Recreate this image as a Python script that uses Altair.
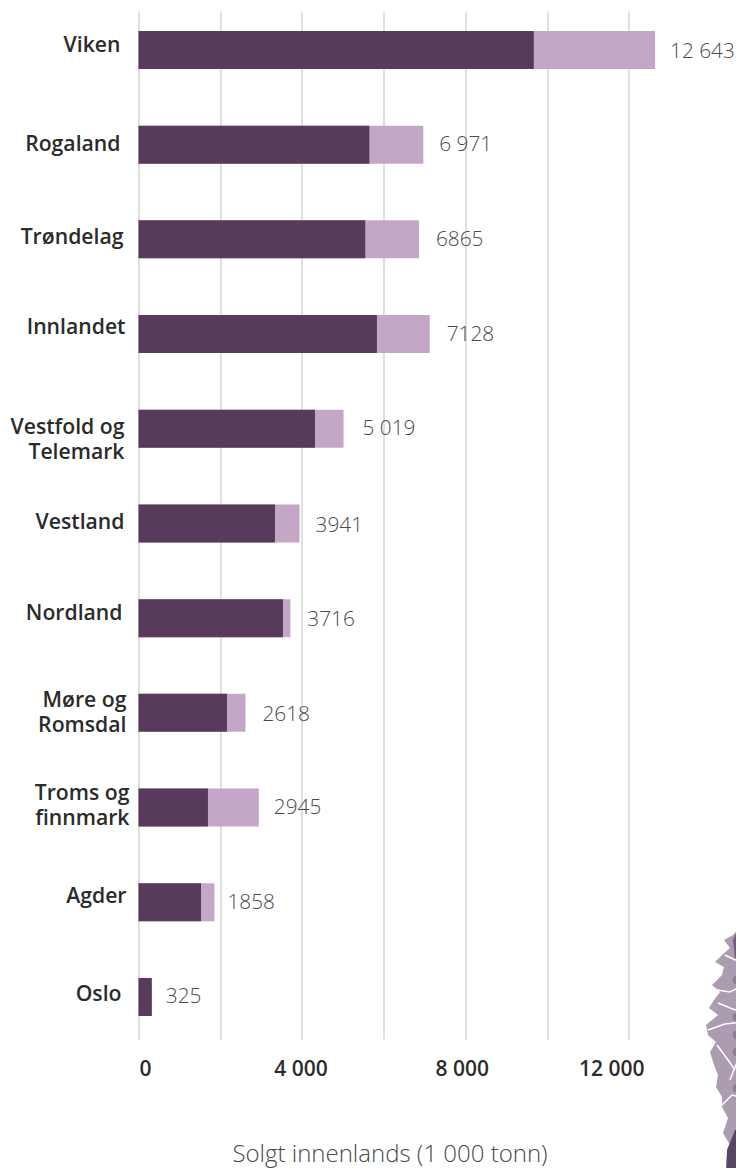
import altair as alt
import pandas as pd

regions = ["Viken", "Rogaland", "Trøndelag", "Innlandet", "Vestfold og\nTelemark", "Vestland",
           "Nordland", "Møre og\nRomsdal", "Troms og\nfinnmark", "Agder", "Oslo"]
totals = [12643, 6971, 6865, 7128, 5019, 3941, 3716, 2618, 2945, 1858, 325]
dark = [9675, 5650, 5550, 5835, 4320, 3340, 3535, 2165, 1700, 1530, 325]
value_labels = ["12 643", "6 971", "6865", "7128", "5 019", "3941", "3716", "2618", "2945", "1858", "325"]
name_nudge = [(-18, -4), (-18, 0), (-15, -1), (-13, -6), (-14, -1), (-14, 0), (-16, -4), (-12, -12), (-9, -14), (-12, -5), (-17, -2)]
value_nudge = [15, 16, 17, 17, 19, 16, 17, 17, 15, 13, 14]
value_dy = [2, 0, 1, 1, 0, 3, 2, 2, 0, 1, 0]
x_ticks = [0, 4000, 8000, 12000]
x_tick_labels = ["0", "4 000", "8 000", "12 000"]
x_tick_nudge = [7, -1, -3, -17]

map_y = [927, 935, 940, 948, 955, 962, 967, 975, 985, 992, 1000, 1008, 1015, 1025, 1035, 1042, 1052, 1065, 1075, 1087,
         1097, 1107, 1118, 1133, 1145, 1153, 1176]
map_left = [740, 733, 724, 730, 722, 715, 724, 722, 712, 720, 714, 709, 718, 706, 708, 716, 710, 714, 718, 716,
            722, 722, 728, 723, 730, 727, 726]
map_right = [744] * 27
map_dark_y = [1130, 1150, 1176]
map_dark_left = [735, 727, 726]
map_top_y = [929, 940, 958]
map_top_left = [738, 733, 735]
fjord_id = [1]*3 + [2]*3 + [3]*3 + [4]*3 + [5]*3 + [6]*3 + [7]*3
fjord_x = [711, 730, 744, 718, 735, 744, 708, 725, 744, 717, 728, 735, 730, 737, 744, 722, 732, 744, 725, 735, 744]
fjord_y = [989, 992, 985, 1003, 1010, 1005, 1030, 1024, 1022, 1045, 1060, 1070, 1080, 1062, 1050, 1105, 1095, 1098, 955, 960, 958]
dot_x = [737, 737, 737, 737, 737]
dot_y = [980, 1017, 1035, 1052, 1088]

df = pd.DataFrame({"region": regions, "total": totals, "dark": dark, "label": value_labels})

FONT = "Open Sans"
W, H = 572, 1028
x_scale = alt.Scale(domain=[0, 14000], range=[0, W], nice=False)
y_scale = alt.Scale(type="band", domain=regions, paddingInner=0.6, paddingOuter=0.2277, align=0.4644)
y_enc = alt.Y("region:N", scale=y_scale, axis=None, sort=regions)
x_plain = lambda f: alt.X(f, scale=x_scale, axis=None)

grid = alt.Chart(pd.DataFrame({"v": [0]})).mark_point(opacity=0).encode(
    x=alt.X("v:Q", scale=x_scale, axis=alt.Axis(values=list(range(0, 14000, 2000)), grid=True, gridColor="#e0e0e0",
                                                gridWidth=2, labels=False, ticks=False, domain=False, title=None)),
)
light = alt.Chart(df).mark_bar(color="#c4a6c6", size=38).encode(x=x_plain("total:Q"), y=y_enc)
darkb = alt.Chart(df).mark_bar(color="#583b5a", size=38).encode(x=x_plain("dark:Q"), y=y_enc)

layers = [grid, light, darkb]
for i, r in enumerate(regions):
    d = df.iloc[[i]]
    ndx, ndy = name_nudge[i]
    layers.append(alt.Chart(d).mark_text(font=FONT, fontSize=21.2, fontWeight=600, color="#2b2b2b", align="right",
                                         baseline="middle", lineBreak="\n", lineHeight=25, dx=ndx, dy=ndy).encode(
        x=alt.value(0), y=y_enc, text="region:N"))
    layers.append(alt.Chart(d).mark_text(font=FONT, fontSize=20.8, fontWeight=300, color="#4a4a4a", align="left",
                                         baseline="middle", dx=value_nudge[i], dy=value_dy[i]).encode(
        x=x_plain("total:Q"), y=y_enc, text="label:N"))

for t, lab, nudge in zip(x_ticks, x_tick_labels, x_tick_nudge):
    layers.append(alt.Chart(pd.DataFrame({"t": [t], "l": [lab]})).mark_text(
        font=FONT, fontSize=21, fontWeight=600, color="#2b2b2b", align="center", baseline="middle", dx=nudge).encode(
        x=x_plain("t:Q"), y=alt.value(H + 31), text="l:N"))

layers.append(alt.Chart(pd.DataFrame({"l": ["Solgt innenlands (1 000 tonn)"]})).mark_text(
    font=FONT, fontSize=24, fontWeight=300, color="#4a4a4a", align="center", baseline="middle").encode(
    x=alt.value(251.5), y=alt.value(H + 116), text="l:N"))

mx = alt.Scale(domain=[138.5, 710.5], range=[0, W])
my = alt.Scale(domain=[11, 1039], range=[0, H])
mpx = lambda f: alt.X(f, scale=mx, axis=None)
mpy = alt.Y("y:Q", scale=my, axis=None)
layers.append(alt.Chart(pd.DataFrame({"y": map_y, "l": map_left, "r": map_right})).mark_area(
    color="#ab9cb1", orient="horizontal").encode(y=mpy, x=mpx("l:Q"), x2="r:Q"))
layers.append(alt.Chart(pd.DataFrame({"y": map_dark_y, "l": map_dark_left, "r": [744] * 3})).mark_area(
    color="#5b4566", orient="horizontal").encode(y=mpy, x=mpx("l:Q"), x2="r:Q"))
layers.append(alt.Chart(pd.DataFrame({"y": map_top_y, "l": map_top_left, "r": [744] * 3})).mark_area(
    color="#705d78", orient="horizontal").encode(y=mpy, x=mpx("l:Q"), x2="r:Q"))
layers.append(alt.Chart(pd.DataFrame({"x": dot_x, "y": dot_y})).mark_circle(color="#8f7c98", size=80, opacity=1).encode(
    x=mpx("x:Q"), y=mpy))
layers.append(alt.Chart(pd.DataFrame({"f": fjord_id, "x": fjord_x, "y": fjord_y, "o": list(range(len(fjord_x)))})).mark_line(
    color="white", strokeWidth=1.5).encode(x=mpx("x:Q"), y=mpy, detail="f:N", order="o:Q"))

chart = alt.layer(*layers).resolve_scale(x="independent", y="independent").properties(
    width=W, height=H, padding={"left": 130.5, "top": 3, "right": 25.5, "bottom": 129},
    autosize=alt.AutoSizeParams(type="none"),
).configure_view(stroke=None)
chart.save("out.html", embed_options={"renderer": "svg", "actions": False})
